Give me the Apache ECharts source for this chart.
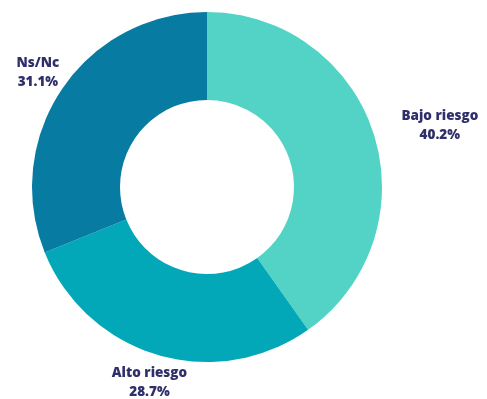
<!DOCTYPE html>
<html><head><meta charset="utf-8">
<script src="https://cdn.jsdelivr.net/npm/echarts@6/dist/echarts.min.js"></script>
<style>html,body{margin:0;padding:0;background:#fff}#c{width:487px;height:399px}</style>
</head><body><div id="c"></div>
<script>
const categories = ['Bajo riesgo', 'Alto riesgo', 'Ns/Nc'];
const values = [40.2, 28.7, 31.1];
const colors = ['#52d3c5', '#03a8b8', '#077ba2'];

const cx = 207, cy = 187, rOut = 175, rIn = 87, rLabel = 204;
const total = values.reduce((a, b) => a + b, 0);
const mids = [];
let acc = 0;
values.forEach(v => { mids.push((acc + v / 2) / total * 2 * Math.PI); acc += v; });

const chart = echarts.init(document.getElementById('c'), null, {renderer: 'canvas'});
chart.setOption({
  animation: false,
  series: [{
    type: 'pie',
    center: [cx, cy],
    radius: [rIn, rOut],
    startAngle: 90,
    clockwise: true,
    avoidLabelOverlap: false,
    data: categories.map((c, i) => ({name: c, value: values[i], itemStyle: {color: colors[i]}})),
    label: {
      show: true,
      position: 'outside',
      formatter: p => p.name + '\n' + p.value.toFixed(1) + '%',
      fontFamily: 'Open Sans',
      fontWeight: 800,
      fontSize: 13.5,
      lineHeight: 19,
      color: '#2f2f6b',
      align: 'center',
      overflow: 'none',
      width: null
    },
    labelLine: {show: false},
    labelLayout: function (p) {
      const a = mids[p.dataIndex];
      const s = Math.sin(a), c = Math.cos(a);
      let x = cx + rLabel * s;
      const y = cy - rLabel * c;
      if (s > 0.5) x += p.labelRect.width / 2;
      return {x: x, y: y, align: 'center', verticalAlign: 'middle', hideOverlap: false};
    }
  }]
});
</script></body></html>
